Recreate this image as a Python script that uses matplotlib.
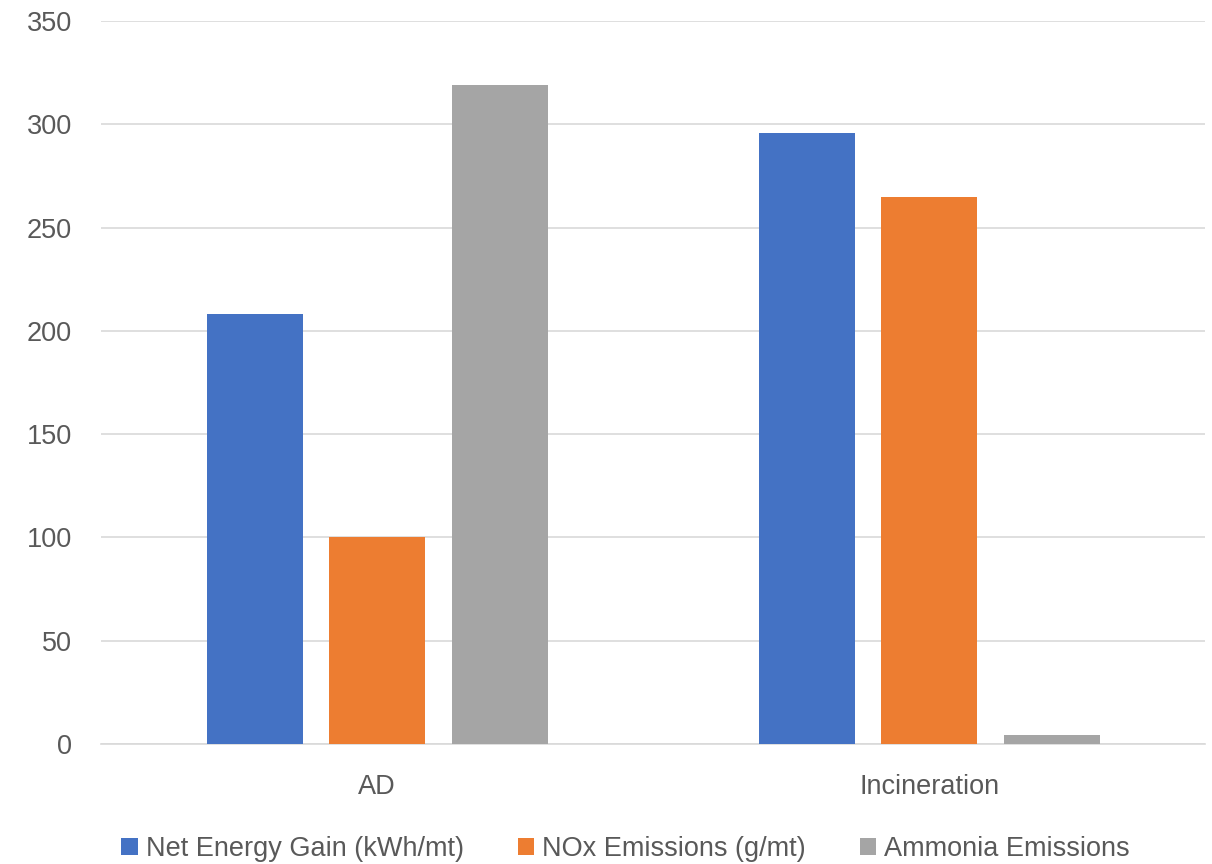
import numpy as np
import matplotlib.pyplot as plt

# Veriler
kategoriler = ['AD', 'Incineration']
seriler = ['Net Energy Gain (kWh/mt)', 'NOx Emissions (g/mt)', 'Ammonia Emissions']
net_enerji = [208, 296]
nox = [100, 265]
amonyak = [319, 4.5]

renkler = ['#4472C4', '#ED7D31', '#A5A5A5']
YAZI = '#595959'

plt.rcParams.update({'font.family': 'Liberation Sans', 'font.size': 19.5})

fig = plt.figure(figsize=(12.12, 8.64), dpi=100)
ax = fig.add_axes([0.0835, 0.139, 0.911, 0.8367])

x = np.arange(len(kategoriler))
genislik = 0.174
aralik = 0.222
for i, (deger, ad) in enumerate(zip([net_enerji, nox, amonyak], seriler)):
    ax.bar(x + (i - 1) * aralik, deger, genislik, color=renkler[i], label=ad, zorder=3)

ax.set_xlim(-0.5, 1.5)
ax.set_ylim(0, 350)
ax.set_yticks(range(0, 351, 50))
ax.set_xticks(x)
ax.set_xticklabels(kategoriler)

ax.grid(axis='y', color='#D9D9D9', linewidth=1.2, zorder=0)
for s in ['top', 'right', 'left']:
    ax.spines[s].set_visible(False)
ax.spines['bottom'].set_color('#D9D9D9')
ax.spines['bottom'].set_linewidth(1.2)
ax.tick_params(axis='both', length=0, colors=YAZI)
ax.tick_params(axis='y', pad=21)
ax.tick_params(axis='x', pad=22)

ax.legend(loc='upper center', bbox_to_anchor=(0.475, -0.12), ncol=3, frameon=False,
          handlelength=0.6, handleheight=0.6, handletextpad=0.3, columnspacing=2.0,
          labelcolor=YAZI, borderaxespad=0, borderpad=0.2)

plt.savefig('out.png', dpi=100)
